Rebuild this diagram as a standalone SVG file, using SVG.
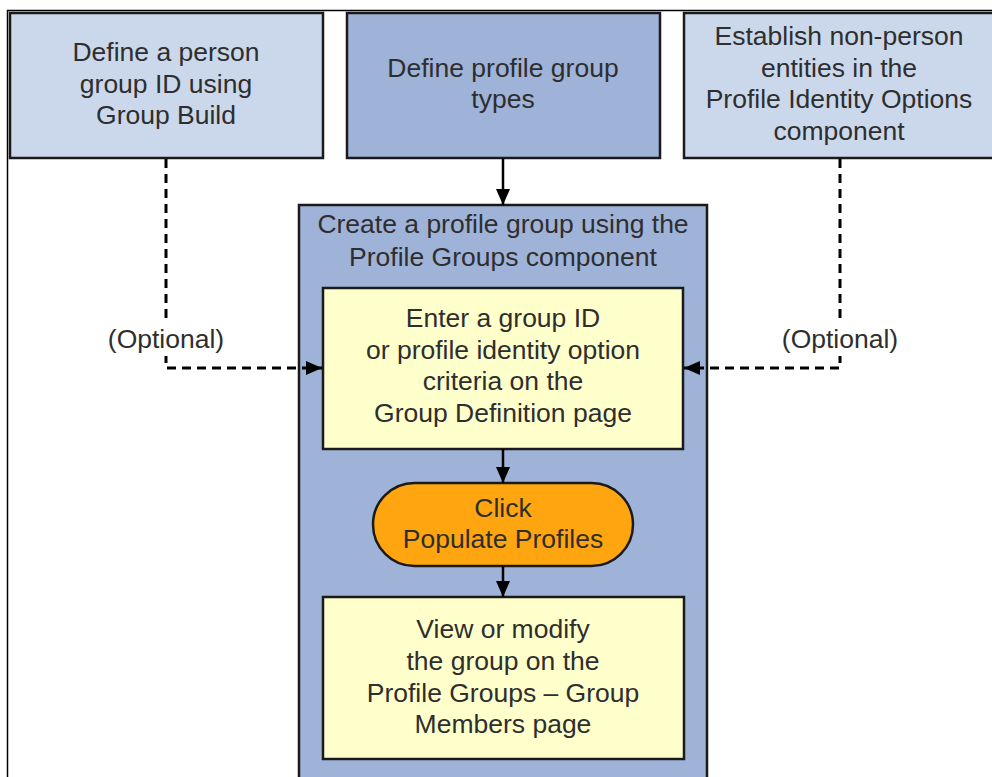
<svg xmlns="http://www.w3.org/2000/svg" width="992" height="777" viewBox="0 0 992 777">
<defs>
<style>
.box{stroke:#1a1a1a;stroke-width:2.5}
.light{fill:#cbd8ec}
.mid{fill:#9fb3d9}
.yel{fill:#ffffcc}
.org{fill:#ffa50f}
text{font-family:"Liberation Sans",Arial,sans-serif;font-size:26.5px;fill:#2e2e2e;text-anchor:middle}
.solid{stroke:#000;stroke-width:2.5;fill:none}
.dash{stroke:#000;stroke-width:3;fill:none;stroke-dasharray:9 6}
</style>
<marker id="ah" viewBox="0 0 16 14" refX="16" refY="7" markerWidth="16" markerHeight="14" markerUnits="userSpaceOnUse" orient="auto">
<path d="M0,0 L16,7 L0,14 Z" fill="#000"/>
</marker>
</defs>
<rect width="992" height="777" fill="#fff"/>
<path d="M7.5,777 V10.5 H992" fill="none" stroke="#000" stroke-width="1.5"/>

<g id="node-person-group">
<rect class="box light" x="10" y="13" width="313" height="145"/>
<text x="166" y="61">Define a person</text>
<text x="166" y="93">group ID using</text>
<text x="166" y="124">Group Build</text>
</g>

<g id="node-profile-group-types">
<rect class="box mid" x="347" y="13" width="313" height="145"/>
<text x="503" y="77">Define profile group</text>
<text x="503" y="108">types</text>
</g>

<g id="node-non-person">
<rect class="box light" x="684" y="13" width="320" height="145"/>
<text x="839" y="45">Establish non-person</text>
<text x="839" y="77">entities in the</text>
<text x="839" y="108">Profile Identity Options</text>
<text x="839" y="140">component</text>
</g>

<g id="node-create-profile-group">
<rect class="box mid" x="299" y="205" width="408" height="580"/>
<text x="503" y="233">Create a profile group using the</text>
<text x="503" y="266">Profile Groups component</text>
</g>

<g id="node-enter-group-id">
<rect class="box yel" x="323" y="288" width="360" height="161"/>
<text x="503" y="327">Enter a group ID</text>
<text x="503" y="359">or profile identity option</text>
<text x="503" y="390">criteria on the</text>
<text x="503" y="422">Group Definition page</text>
</g>

<g id="node-populate">
<rect class="box org" x="373" y="483" width="260" height="83" rx="41.5" ry="41.5"/>
<text x="503" y="517">Click</text>
<text x="503" y="548">Populate Profiles</text>
</g>

<g id="node-view-modify">
<rect class="box yel" x="323" y="597" width="361" height="162"/>
<text x="503" y="638">View or modify</text>
<text x="503" y="670">the group on the</text>
<text x="503" y="702">Profile Groups – Group</text>
<text x="503" y="733">Members page</text>
</g>

<g id="connectors">
<path class="solid" d="M503,158 V205" marker-end="url(#ah)"/>
<path class="solid" d="M503,449 V483" marker-end="url(#ah)"/>
<path class="solid" d="M503,566 V597" marker-end="url(#ah)"/>
<path class="dash" d="M166,159 V368 H322" marker-end="url(#ah)"/>
<path class="dash" d="M840,159 V368 H684" marker-end="url(#ah)"/>
<rect x="95" y="324" width="142" height="32" fill="#fff"/>
<rect x="770" y="324" width="142" height="32" fill="#fff"/>
<text x="166" y="348">(Optional)</text>
<text x="840" y="348">(Optional)</text>
</g>
</svg>
